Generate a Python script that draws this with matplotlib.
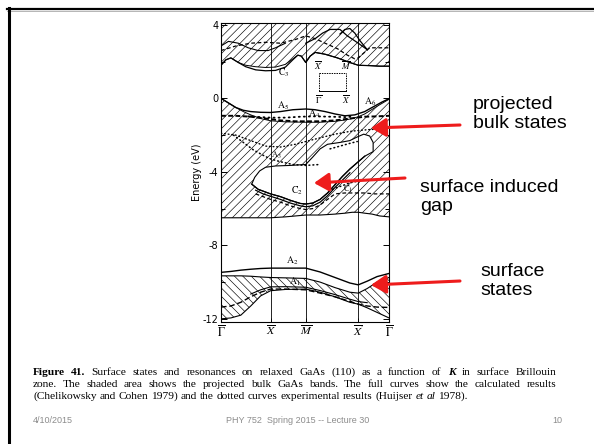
import numpy as np
import matplotlib
matplotlib.use('Agg')
import matplotlib.pyplot as plt
from matplotlib.patches import FancyArrowPatch
from matplotlib.lines import Line2D

W, H = 594, 444
plt.rcParams['hatch.linewidth'] = 0.45
plt.rcParams['mathtext.fontset'] = 'stix'

# ---------------- data ----------------
k_points = [0.0, 1.0, 1.71, 2.77, 3.39]
k_labels = [r'$\overline{\Gamma}$', r'$\overline{X}$', r'$\overline{M}$',
            r"$\overline{X}'$", r'$\overline{\Gamma}$']
e_major = [4, 0, -4, -8, -12]
e_major_labels = ['4', '0', '-4', '-8', '-12']
e_minor = [2, -2, -6, -10]

# projected bulk conduction bands (hatched) and surface band C3
cb_k = [0, 0.1, 0.2, 0.35, 0.5, 0.7, 0.9, 1.1, 1.3, 1.45, 1.55, 1.62, 1.71,
        1.8, 1.9, 2.1, 2.35, 2.6, 2.77, 3.0, 3.2, 3.39]
cb_lo = [1.8, 2.1, 2.2, 1.95, 1.8, 1.72, 1.68, 1.7, 1.85, 2.15, 2.35, 2.3, 1.95,
         2.3, 2.5, 2.4, 2.2, 1.95, 1.8, 1.78, 1.75, 1.75]
c3_E = [1.8, 2.1, 2.2, 1.95, 1.72, 1.55, 1.5, 1.52, 1.7, 2.1, 2.35, 2.3, 1.95,
        2.3, 2.5, 2.4, 2.2, 1.95, 1.8, 1.78, 1.75, 1.75]
cbd_k = [0, 0.3, 0.6, 0.9, 1.2, 1.5, 1.71, 1.9, 2.1, 2.35, 2.55, 2.7, 2.77, 3.0, 3.2, 3.39]
cbd_E = [2.6, 2.85, 3.0, 3.05, 3.0, 3.2, 3.4, 3.25, 3.0, 2.7, 2.35, 2.15, 2.2, 2.75, 2.75, 2.75]
cbw_k = [0, 0.15, 0.35, 0.55, 0.75, 0.95, 1.1, 1.3]
cbw_E = [2.85, 3.1, 3.0, 2.75, 2.6, 2.6, 2.75, 3.0]
cbl1_k = [1.71, 1.9, 2.05, 2.2, 2.4, 2.55, 2.77, 2.95]
cbl1_E = [3.0, 3.25, 3.55, 3.75, 3.75, 3.4, 3.0, 2.65]
cbl2_k = [2.4, 2.5, 2.6, 2.7, 2.8, 2.95]
cbl2_E = [3.5, 3.75, 3.8, 3.55, 3.15, 2.65]

# projected bulk valence bands
vb_k = [0, 0.15, 0.3, 0.45, 0.6, 0.8, 1.0, 1.3, 1.71, 2.0, 2.3, 2.5, 2.65, 2.77,
        2.9, 3.05, 3.2, 3.39]
vb_top = [0, -0.25, -0.5, -0.72, -0.9, -1.1, -1.22, -1.28, -1.3, -1.3, -1.25, -1.18,
          -1.1, -1.0, -0.85, -0.6, -0.35, -0.05]
vb_bot = [-6.5, -6.5, -6.5, -6.5, -6.5, -6.5, -6.5, -6.45, -6.35, -6.35, -6.3, -6.25,
          -6.2, -6.2, -6.25, -6.3, -6.4, -6.45]
# surface induced gap (white pocket inside the valence projection)
gap_k = [0.62, 0.68, 0.78, 0.9, 1.1, 1.4, 1.71, 1.85, 2.0, 2.15, 2.4, 2.6, 2.75, 2.88,
         3.0, 3.07, 3.07, 2.9, 2.77, 2.6, 2.45, 2.3, 2.15, 2.0, 1.85, 1.71, 1.6, 1.4,
         1.2, 1.0, 0.9, 0.75]
gap_E = [-4.67, -4.3, -3.95, -3.75, -3.68, -3.65, -3.6, -3.2, -2.75, -2.5, -2.4, -2.3,
         -2.1, -1.95, -2.05, -2.4, -2.9, -3.15, -3.45, -3.85, -4.25, -4.7, -5.15, -5.5,
         -5.7, -5.75, -5.72, -5.55, -5.35, -5.2, -5.1, -4.95]

# surface bands A5/A6, A4 and experimental points
a5_k = [0, 0.15, 0.3, 0.45, 0.6, 0.8, 1.0, 1.2, 1.45, 1.71, 1.9, 2.1, 2.3, 2.5, 2.7,
        2.9, 3.1, 3.25, 3.39]
a5_E = [0, -0.25, -0.5, -0.65, -0.72, -0.76, -0.77, -0.72, -0.62, -0.58, -0.62, -0.72,
        -0.85, -0.95, -0.9, -0.72, -0.42, -0.2, -0.02]
exp1_k = [0.55, 0.8, 1.0, 1.3, 1.6, 1.9, 2.2, 2.5, 2.65]
exp1_E = [-0.98, -1.02, -1.05, -1.05, -1.0, -0.98, -1.0, -1.02, -1.0]
a4_k = [0, 0.3, 0.6, 0.9, 1.2, 1.5, 1.71, 2.0, 2.3, 2.6, 2.9, 3.15, 3.39]
a4_E = [-0.95, -0.95, -1.0, -1.1, -1.2, -1.25, -1.25, -1.25, -1.2, -1.1, -1.0, -0.98, -0.95]
vbd_k = [0, 0.3, 0.6, 0.9, 1.2, 1.5, 1.71, 2.0, 2.3, 2.6, 2.77, 3.0, 3.39]
vbd_E = [-1.9, -2.0, -2.3, -2.6, -2.65, -2.5, -2.35, -2.15, -1.95, -1.8, -1.75, -1.7, -1.65]
a3_k = [0.25, 0.45, 0.65, 0.85, 1.0, 1.2, 1.45, 1.71, 2.0]
a3_E = [-2.0, -2.4, -2.8, -3.1, -3.3, -3.45, -3.6, -3.65, -3.6]
exp2_k = [2.2, 2.4, 2.6, 2.75]
exp2_E = [-2.75, -2.6, -2.45, -2.35]

# surface bands C2 / C1
c2a_k = [0.62, 0.75, 0.9, 1.0, 1.2, 1.4, 1.6, 1.71, 1.85, 2.0, 2.15, 2.3, 2.45, 2.6, 2.77, 2.9]
c2a_E = [-4.67, -4.95, -5.1, -5.2, -5.35, -5.55, -5.72, -5.75, -5.7, -5.5, -5.15, -4.7,
         -4.25, -3.85, -3.45, -3.15]
c2b_k = [0.7, 0.85, 1.0, 1.2, 1.4, 1.6, 1.71, 1.85, 2.0, 2.15, 2.3, 2.45, 2.6]
c2b_E = [-5.0, -5.2, -5.33, -5.5, -5.7, -5.85, -5.9, -5.85, -5.65, -5.3, -4.85, -4.45, -4.05]
c2c_k = [0.7, 0.85, 1.0, 1.2, 1.4, 1.6, 1.71, 1.85, 2.0, 2.15, 2.3, 2.5, 2.7, 2.9, 3.1, 3.39]
c2c_E = [-5.2, -5.35, -5.5, -5.65, -5.85, -6.0, -6.05, -6.0, -5.8, -5.5, -5.2, -5.15,
         -5.15, -5.15, -5.2, -5.2]
c1_k = [2.25, 2.45, 2.6, 2.77]
c1_E = [-4.95, -4.75, -4.6, -4.5]

# lower valence projection, A2 and A1
lo_k = [0, 0.2, 0.4, 0.6, 0.8, 1.0, 1.3, 1.71, 2.0, 2.3, 2.6, 2.77, 2.95, 3.15, 3.39]
a2_E = [-9.47, -9.42, -9.35, -9.3, -9.26, -9.24, -9.24, -9.24, -9.45, -9.75, -10.05,
        -10.15, -9.95, -9.7, -9.53]
lo_top = [-9.66, -9.66, -9.66, -9.68, -9.72, -9.75, -9.77, -9.8, -10.0, -10.3, -10.55,
          -10.6, -10.35, -10.0, -9.75]
lo_bot = [-12.0, -11.95, -11.8, -11.3, -10.75, -10.47, -10.4, -10.38, -10.55, -10.8,
          -11.1, -11.2, -11.4, -11.65, -11.95]
a1d_E = [-11.36, -11.3, -11.1, -10.8, -10.55, -10.38, -10.38, -10.42, -10.6, -10.8,
         -11.05, -11.2, -11.3, -11.36, -11.38]
a1_k = [0.6, 0.8, 1.0, 1.3, 1.71, 2.0, 2.3, 2.6, 2.77, 2.95]
a1_E = [-10.65, -10.42, -10.26, -10.25, -10.28, -10.46, -10.68, -10.93, -11.06, -11.12]

# ---------------- helpers ----------------
def fx(px):
    return px / W

def fy(py):
    return 1 - py / H

fig = plt.figure(figsize=(W / 100, H / 100), dpi=100)
fig.patch.set_facecolor('white')

# slide frame lines
fig.add_artist(Line2D([fx(7), 1], [fy(9), fy(9)], color='black', lw=1.6,
                      transform=fig.transFigure))
fig.add_artist(Line2D([fx(7), 1], [fy(11.3), fy(11.3)], color='#aaaaaa', lw=0.6,
                      transform=fig.transFigure))
fig.add_artist(Line2D([fx(8.5), fx(8.5)], [fy(8), 0], color='black', lw=2.2,
                      transform=fig.transFigure))

# ---------------- band structure axes ----------------
ax = fig.add_axes([fx(221), fy(321.6), 168 / W, (321.6 - 23) / H])
ax.set_xlim(0, 3.39)
ax.set_ylim(-12.15, 4.1)

hatch_kw = dict(facecolor='none', edgecolor='black', lw=0, zorder=1)
ax.fill_between(cb_k, cb_lo, 4.1, hatch='////', **hatch_kw)
ax.fill_between(vb_k, vb_bot, vb_top, hatch='////', **hatch_kw)
ax.fill_between(lo_k, lo_bot, lo_top, hatch='\\\\\\\\', **hatch_kw)
ax.fill(gap_k, gap_E, facecolor='white', edgecolor='black', lw=0.8, zorder=2)

lk = dict(color='black', zorder=3)
ax.plot(cb_k, cb_lo, lw=0.7, **lk)
ax.plot(cb_k, c3_E, lw=0.9, **lk)
ax.plot(cbd_k, cbd_E, lw=0.9, ls=(0, (3, 2)), **lk)
ax.plot(cbw_k, cbw_E, lw=0.8, **lk)
ax.plot(cbl1_k, cbl1_E, lw=0.9, **lk)
ax.plot(cbl2_k, cbl2_E, lw=0.9, **lk)

ax.plot(vb_k, vb_top, lw=0.7, **lk)
ax.plot(vb_k, vb_bot, lw=0.8, **lk)
ax.plot(a5_k, a5_E, lw=1.0, **lk)
ax.plot(exp1_k, exp1_E, lw=1.3, ls=(0, (0.6, 2.2)), dash_capstyle='round', **lk)
ax.plot(a4_k, a4_E, lw=1.4, ls=(0, (2.5, 1.2)), **lk)
ax.plot(vbd_k, vbd_E, lw=1.0, ls=(0, (0.6, 2.0)), dash_capstyle='round', **lk)
ax.plot(a3_k, a3_E, lw=1.1, ls=(0, (0.6, 2.0)), dash_capstyle='round', **lk)
ax.plot(exp2_k, exp2_E, lw=1.1, ls=(0, (0.6, 2.0)), dash_capstyle='round', **lk)
ax.plot(c2a_k, c2a_E, lw=0.9, **lk)
ax.plot(c2b_k, c2b_E, lw=0.9, **lk)
ax.plot(c2c_k, c2c_E, lw=0.9, ls=(0, (3, 2)), **lk)
ax.plot(c1_k, c1_E, lw=1.1, ls=(0, (0.6, 2.0)), dash_capstyle='round', **lk)

ax.plot(lo_k, a2_E, lw=1.0, **lk)
ax.plot(lo_k, lo_top, lw=0.8, **lk)
ax.plot(lo_k, lo_bot, lw=0.8, **lk)
ax.plot(lo_k, a1d_E, lw=1.0, ls=(0, (4, 2)), **lk)
ax.plot(a1_k, a1_E, lw=0.8, **lk)

for kp in k_points[1:-1]:
    ax.axvline(kp, color='black', lw=0.6, zorder=4)

# band labels
lab = dict(fontsize=7, ha='center', va='center', zorder=5)
ax.text(1.27, 1.4, r'$\mathrm{C}_3$', **lab)
ax.text(1.25, -0.42, r'$\mathrm{A}_5$', **lab)
ax.text(1.88, -0.85, r'$\mathrm{A}_4$', **lab)
ax.text(3.0, -0.2, r'$\mathrm{A}_6$', **lab)
ax.text(1.12, -3.1, r'$\mathrm{A}_3$', fontsize=6, ha='center', va='center', zorder=5)
ax.text(1.53, -5.05, r'$\mathrm{C}_2$', **lab)
ax.text(2.56, -4.95, r'$\mathrm{C}_1$', fontsize=6, ha='center', va='center', zorder=5)
ax.text(1.43, -8.85, r'$\mathrm{A}_2$', **lab)
ax.text(1.5, -10.0, r'$\mathrm{A}_1$', **lab)

# surface Brillouin zone inset
ax.plot([1.98, 2.52], [0.4, 0.4], color='black', lw=0.7, zorder=5)
ax.plot([1.98, 1.98], [0.4, 1.36], color='black', lw=0.7, ls=(0, (1.5, 1)), zorder=5)
ax.plot([1.98, 2.52], [1.36, 1.36], color='black', lw=0.7, ls=(0, (1.5, 1)), zorder=5)
ax.plot([2.52, 2.52], [0.4, 1.36], color='black', lw=0.7, ls=(0, (1.5, 1)), zorder=5)
ins = dict(fontsize=6.5, ha='center', zorder=5)
ax.text(1.98, 1.45, r"$\overline{X}'$", va='bottom', **ins)
ax.text(2.52, 1.45, r'$\overline{M}$', va='bottom', **ins)
ax.text(1.98, 0.3, r'$\overline{\Gamma}$', va='top', **ins)
ax.text(2.52, 0.3, r'$\overline{X}$', va='top', **ins)

# axes styling
for s in ax.spines.values():
    s.set_linewidth(0.8)
ax.set_yticks(e_major)
ax.set_yticklabels(e_major_labels)
ax.set_yticks(e_minor, minor=True)
ax.tick_params(axis='y', which='both', direction='in', left=True, right=True,
               labelsize=7, width=0.7, pad=2)
ax.tick_params(axis='y', which='major', length=4)
ax.tick_params(axis='y', which='minor', length=3)
ax.set_xticks(k_points)
ax.set_xticklabels(k_labels, fontsize=8.5)
ax.tick_params(axis='x', direction='in', length=3, width=0.6, pad=2)
ax.set_ylabel('Energy (eV)', fontsize=7, labelpad=0.5)

# ---------------- annotations ----------------
note = dict(fontsize=14, family='Liberation Sans', color='black', ha='left',
            va='center', linespacing=1.15)
fig.text(fx(473), fy(114), 'projected\nbulk states', **note)
fig.text(fx(420), fy(197), 'surface induced\ngap', **note)
fig.text(fx(480), fy(281), 'surface\nstates', **note)

red = '#ee1c1c'
for (x0, y0), (x1, y1) in [((460, 125), (371, 128)), ((405, 178), (314, 183)),
                           ((460, 281), (371, 285))]:
    fig.add_artist(FancyArrowPatch((fx(x0), fy(y0)), (fx(x1), fy(y1)),
                                   transform=fig.transFigure,
                                   arrowstyle='-|>,head_length=0.45,head_width=0.28',
                                   mutation_scale=20, lw=2.2, color=red,
                                   shrinkA=0, shrinkB=0))

# ---------------- caption (justified) ----------------
fig.canvas.draw()
renderer = fig.canvas.get_renderer()
cap_size = 8.2
styles = {'n': dict(weight='normal', style='normal'),
          'b': dict(weight='bold', style='normal'),
          'i': dict(weight='normal', style='italic'),
          'bi': dict(weight='bold', style='italic')}

def words_of(spec):
    out = []
    for text, st in spec:
        for w in text.split():
            out.append((w, st))
    return out

cap1 = words_of([('Figure 41.', 'b'),
                 ('Surface states and resonances on relaxed GaAs (110) as a function of', 'n'),
                 ('K', 'bi'), ('in surface Brillouin', 'n')])
cap2 = words_of([('zone.  The shaded area shows the projected bulk GaAs bands.  '
                  'The full curves show the calculated results', 'n')])
cap3 = words_of([('(Chelikowsky and Cohen 1979) and the dotted curves experimental results (Huijser', 'n'),
                 ('et al', 'i'), ('1978).', 'n')])

def space_width():
    a = fig.text(0, 0, 'a a', fontsize=cap_size, family='Liberation Serif')
    b = fig.text(0, 0, 'aa', fontsize=cap_size, family='Liberation Serif')
    w = a.get_window_extent(renderer).width - b.get_window_extent(renderer).width
    a.remove()
    b.remove()
    return w

SW = space_width()

def place_line(words, x0, x1, ybase, justify):
    arts = []
    for w, st in words:
        t = fig.text(0, fy(ybase), w, fontsize=cap_size, family='Liberation Serif',
                     va='baseline', ha='left', **styles[st])
        arts.append(t)
    widths = [a.get_window_extent(renderer).width for a in arts]
    gap = SW
    if justify:
        gap = max(SW * 0.7, (x1 - x0 - sum(widths)) / (len(words) - 1))
    x = x0
    for a, wdt in zip(arts, widths):
        a.set_x(fx(x))
        x += wdt + gap

place_line(cap1, 33, 556, 375, True)
place_line(cap2, 33, 556, 387, True)
place_line(cap3, 33, 556, 399, False)

# ---------------- footer ----------------
foot = dict(fontsize=6.5, family='Liberation Sans', color='#8c8c8c', va='center')
fig.text(fx(33), fy(420), '4/10/2015', ha='left', **foot)
fig.text(fx(298), fy(420), 'PHY 752  Spring 2015 -- Lecture 30', ha='center', **foot)
fig.text(fx(562), fy(420), '10', ha='right', **foot)

fig.savefig('out.png', dpi=100, facecolor='white')
